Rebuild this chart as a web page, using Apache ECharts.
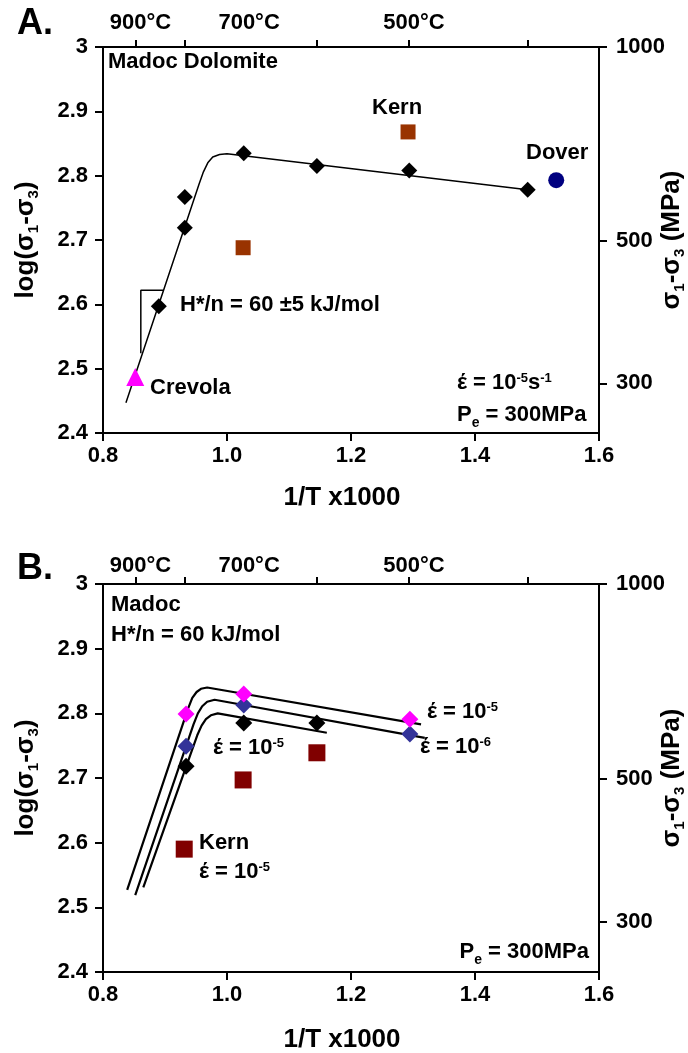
<!DOCTYPE html>
<html>
<head>
<meta charset="utf-8">
<script src="https://cdn.jsdelivr.net/npm/echarts@6/dist/echarts.min.js"></script>
<style>
  html, body { margin: 0; padding: 0; background: #fff; }
  #chart { width: 688px; height: 1053px; }
</style>
</head>
<body>
<div id="chart"></div>
<script>
// ---- Panel A: Madoc Dolomite, 1/T x1000 vs log(σ1-σ3) ----
const madocA   = [[0.890, 2.597], [0.932, 2.719], [0.932, 2.767], [1.027, 2.835], [1.145, 2.815], [1.294, 2.808], [1.485, 2.778]];
const kernA    = [[1.026, 2.688], [1.292, 2.868]];
const doverA   = [[1.531, 2.793]];
const crevolaA = [[0.852, 2.487]];
const fitA     = [[0.837, 2.447], [0.955, 2.787], [0.962, 2.806], [0.969, 2.820], [0.977, 2.829], [0.988, 2.833], [1.000, 2.834], [1.485, 2.778]];
const slopeA   = [[0.897, 2.622], [0.861, 2.622], [0.861, 2.524]];

// ---- Panel B: Madoc at two strain rates, H*/n = 60 kJ/mol ----
const rate5B  = [[0.934, 2.799], [1.027, 2.830], [1.295, 2.791]];   // magenta
const rate6B  = [[0.934, 2.749], [1.027, 2.813], [1.295, 2.768]];   // blue
const madocB  = [[0.934, 2.718], [1.027, 2.785], [1.145, 2.785]];   // black
const kernB   = [[0.931, 2.590], [1.026, 2.697], [1.145, 2.739]];
const curveTopB = [[0.839, 2.527], [0.937, 2.807], [0.944, 2.824], [0.951, 2.833], [0.958, 2.838], [0.968, 2.840], [1.313, 2.783]];
const curveMidB = [[0.852, 2.519], [0.946, 2.783], [0.953, 2.800], [0.960, 2.811], [0.968, 2.818], [0.980, 2.821], [1.319, 2.762]];
const curveBotB = [[0.865, 2.531], [0.952, 2.766], [0.959, 2.781], [0.966, 2.791], [0.974, 2.797], [0.985, 2.800], [1.161, 2.770]];

// ---- axis ticks ----
const topTickTemps  = [900, 800, 600, 500, 400];   // °C
const topLabelTemps = [900, 700, 500];             // °C
const stressTicks   = [300, 500, 1000];            // MPa

const FONT = '"Liberation Sans", Arial, Helvetica, sans-serif';
const invT = tc => 1000 / (tc + 273.15);
const black = '#000';
const axLine = { onZero: false, lineStyle: { color: black, width: 2 } };
const labelStyle = { color: black, fontFamily: FONT, fontWeight: 'bold', fontSize: 22 };

function bottomX(g, gap) {
  return {
    type: 'value', gridIndex: g, position: 'bottom', min: 0.8, max: 1.6, interval: 0.2,
    axisLine: axLine, splitLine: { show: false },
    axisTick: { length: 8, lineStyle: { color: black, width: 2 } },
    axisLabel: Object.assign({ margin: 12, showMinLabel: true, showMaxLabel: true, formatter: v => v.toFixed(1) }, labelStyle),
    name: '1/T x1000', nameLocation: 'middle', nameGap: gap, nameMoveOverlap: false,
    nameTextStyle: { color: black, fontFamily: FONT, fontWeight: 'bold', fontSize: 26, padding: [0, 18, 0, 0] }
  };
}
function topX(g, margin) {
  return {
    type: 'value', gridIndex: g, position: 'top', min: 0.8, max: 1.6,
    axisLine: axLine, splitLine: { show: false },
    axisTick: { length: 7, customValues: topTickTemps.map(invT), lineStyle: { color: black, width: 2 } },
    axisLabel: Object.assign({ margin: margin, customValues: topLabelTemps.map(invT), padding: [0, 0, 0, 10],
      formatter: v => Math.round(1000 / v - 273.15) + '°C' }, labelStyle)
  };
}
const subRich = {
  a: { fontSize: 26, fontWeight: 'bold', fontFamily: FONT, color: black },
  s: { fontSize: 15, fontWeight: 'bold', fontFamily: FONT, color: black, verticalAlign: 'bottom', padding: [0, 0, -2, 0] }
};
function leftY(g) {
  return {
    type: 'value', gridIndex: g, position: 'left', min: 2.4, max: 3, interval: 0.1,
    axisLine: axLine, splitLine: { show: false },
    axisTick: { length: 8, lineStyle: { color: black, width: 2 } },
    axisLabel: Object.assign({ margin: 15, showMinLabel: true, showMaxLabel: true,
      formatter: v => String(Math.round(v * 10) / 10) }, labelStyle),
    name: '{a|log(σ}{s|1}{a|-σ}{s|3}{a|)}', nameLocation: 'middle', nameGap: 64, nameRotate: 90,
    nameMoveOverlap: false,
    nameTextStyle: { rich: subRich }
  };
}
function rightY(g) {
  return {
    type: 'value', gridIndex: g, position: 'right', min: 2.4, max: 3,
    axisLine: axLine, splitLine: { show: false },
    axisTick: { length: 8, customValues: stressTicks.map(Math.log10), lineStyle: { color: black, width: 2 } },
    axisLabel: Object.assign({ margin: 17, customValues: stressTicks.map(Math.log10),
      formatter: v => String(Math.round(Math.pow(10, v))) }, labelStyle),
    name: '{a|σ}{s|1}{a|-σ}{s|3}{a| (MPa)}', nameLocation: 'middle', nameGap: 60, nameRotate: 90,
    nameMoveOverlap: false,
    nameTextStyle: { rich: subRich }
  };
}

function line(data, xi, yi, width) {
  return { type: 'line', data, xAxisIndex: xi, yAxisIndex: yi, symbol: 'none', silent: true,
    lineStyle: { color: black, width }, z: 2 };
}
function dots(data, xi, yi, symbol, size, color) {
  return { type: 'scatter', data, xAxisIndex: xi, yAxisIndex: yi, symbol, symbolSize: size,
    itemStyle: { color, opacity: 1 }, silent: true, z: 3 };
}

// annotation text
const textRich = {
  t:   { fontSize: 22, fontWeight: 'bold', fontFamily: FONT, fill: black, color: black },
  sup: { fontSize: 13, fontWeight: 'bold', fontFamily: FONT, fill: black, color: black, verticalAlign: 'top' },
  sub: { fontSize: 14, fontWeight: 'bold', fontFamily: FONT, fill: black, color: black, verticalAlign: 'bottom', padding: [0, 0, -4, 0] }
};
function note(x, y, text, align, size) {
  return {
    type: 'text', x, y, silent: true,
    style: {
      text, align: align || 'left', verticalAlign: 'middle', fill: black,
      font: 'bold ' + (size || 22) + 'px ' + FONT, rich: textRich
    }
  };
}

const option = {
  animation: false,
  backgroundColor: '#fff',
  grid: [
    { left: 103, top: 47, width: 496, height: 386, outerBoundsMode: 'none', containLabel: false },
    { left: 103, top: 584, width: 496, height: 388, outerBoundsMode: 'none', containLabel: false }
  ],
  xAxis: [bottomX(0, 52), topX(0, 13), bottomX(1, 55), topX(1, 7)],
  yAxis: [leftY(0), rightY(0), leftY(1), rightY(1)],
  series: [
    line(fitA, 0, 0, 1.5),
    line(slopeA, 0, 0, 1.5),
    dots(madocA, 0, 0, 'diamond', 16, '#000'),
    dots(kernA, 0, 0, 'rect', 15, '#993300'),
    dots(doverA, 0, 0, 'circle', 16, '#000080'),
    dots(crevolaA, 0, 0, 'triangle', 18, '#FF00FF'),

    line(curveTopB, 2, 2, 2.2),
    line(curveMidB, 2, 2, 2.2),
    line(curveBotB, 2, 2, 2.2),
    dots(madocB, 2, 2, 'diamond', 17, '#000'),
    dots(rate6B, 2, 2, 'diamond', 17, '#333399'),
    dots(rate5B, 2, 2, 'diamond', 17, '#FF00FF'),
    dots(kernB, 2, 2, 'rect', 17, '#800000')
  ],
  graphic: [
    note(17, 24, 'A.', 'left', 36),
    note(108, 62, 'Madoc Dolomite'),
    note(372, 108, 'Kern'),
    note(526, 153, 'Dover'),
    note(180, 305, 'H*/n = 60 ±5 kJ/mol'),
    note(150, 388, 'Crevola'),
    note(457, 383, '{t|έ = 10}{sup|-5}{t|s}{sup|-1}'),
    note(457, 415, '{t|P}{sub|e}{t| = 300MPa}'),

    note(17, 569, 'B.', 'left', 36),
    note(111, 605, 'Madoc'),
    note(111, 635, 'H*/n = 60 kJ/mol'),
    note(213, 748, '{t|έ = 10}{sup|-5}'),
    note(427, 712, '{t|έ = 10}{sup|-5}'),
    note(420, 747, '{t|έ = 10}{sup|-6}'),
    note(199, 843, 'Kern'),
    note(199, 872, '{t|έ = 10}{sup|-5}'),
    note(589, 952, '{t|P}{sub|e}{t| = 300MPa}', 'right')
  ]
};

const chart = echarts.init(document.getElementById('chart'), null, { renderer: 'canvas' });
chart.setOption(option);
</script>
</body>
</html>
